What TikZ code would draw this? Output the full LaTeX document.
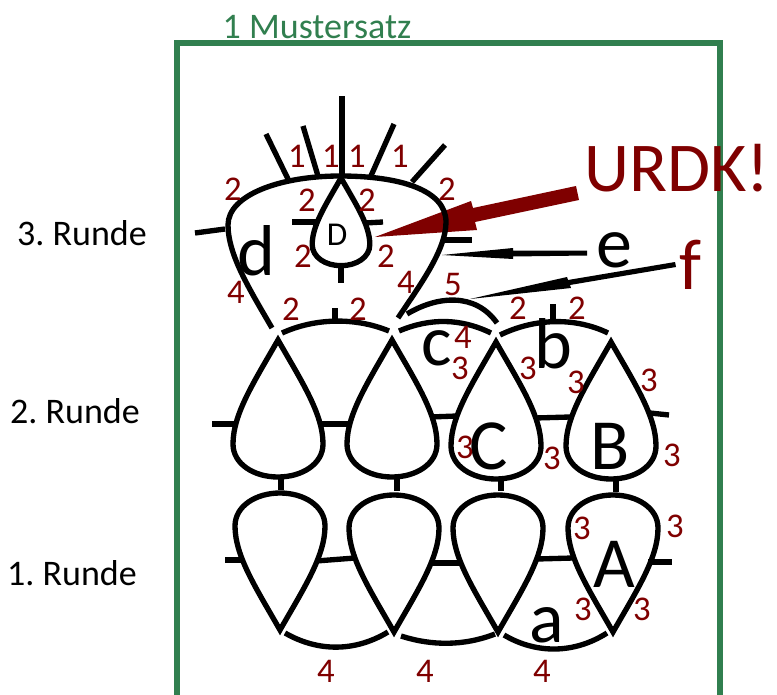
\documentclass[tikz,border=0pt]{standalone}
\usepackage{fontspec}
\setmainfont{Carlito}
\frenchspacing
\definecolor{rahmen}{HTML}{317F4F}
\definecolor{dunkelrot}{HTML}{7F0000}
\tikzset{
  masche/.style={line width=4pt},
  zahl/.style={text=dunkelrot,inner sep=0pt,anchor=base,font=\fontsize{26}{26}\selectfont},
  buchstabe/.style={inner sep=0pt,anchor=base,font=\fontsize{54}{54}\selectfont},
  runde/.style={inner sep=0pt,anchor=base,font=\fontsize{27}{27}\selectfont},
  tropfen/.pic={
    \draw[masche,line join=miter] (0,0) .. controls (-24,42) and (-45,74) .. (-45,104)
      .. controls (-45,124) and (-24,137) .. (0,137)
      .. controls (24,137) and (45,124) .. (45,104)
      .. controls (45,74) and (24,42) .. (0,0) -- cycle;
  }
}
\begin{document}
\begin{tikzpicture}[x=0.75pt,y=-0.75pt]
\useasboundingbox (0,0) rectangle (777,695);
%RAHMEN
\draw[rahmen,line width=3.8pt] (177,695) -- (177,43) -- (720,43) -- (720,695);
\node (mustersatz) at (317,39) [runde,text=rahmen] {1 Mustersatz};
\node (runde3) at (82,245) [runde] {3. Runde};
\node (runde2) at (75,423) [runde] {2. Runde};
\node (runde1) at (72,585) [runde] {1. Runde};

%ROT
\coordinate (urdkziel) at (375,237);
\fill[dunkelrot] (urdkziel) -- (471,201) -- (473,208) -- (576,186) -- (579,200) -- (475,222) -- (477,230) -- cycle;

%1. RUNDE
\pic[yscale=-1] at (280,630) {tropfen};
\pic[yscale=-1] at (394,632) {tropfen};
\pic[yscale=-1] at (498,632) {tropfen};
\pic[yscale=-1] at (613,632) {tropfen};
\draw[masche] (225,560) -- (242,560);
\draw[masche] (316,561) -- (355,558);
\draw[masche] (430,563) -- (462,563);
\draw[masche] (537,559) -- (573,558);
\draw[masche] (648,562) -- (672,562);
\draw[masche] (285,633) .. controls (318,652) and (355,652) .. (388,632);
\draw[masche] (401,636) .. controls (432,646) and (464,646) .. (495,634);
\draw[masche] (504,635) .. controls (536,654) and (574,654) .. (607,633);

%2. RUNDE
\pic at (278,340) {tropfen};
\pic at (392,340) {tropfen};
\pic at (496,342) {tropfen};
\pic at (611,342) {tropfen};
\draw[masche] (212,424) -- (234,424);
\draw[masche] (320,424) -- (349,424);
\draw[masche] (430,417) -- (457,416);
\draw[masche] (535,418) -- (570,417);
\draw[masche] (650,413) -- (669,415);
\draw[masche] (281,477) -- (281,490);
\draw[masche] (397,479) -- (397,491);
\draw[masche] (501,481) -- (501,491);
\draw[masche] (616,481) -- (616,492);
\draw[masche] (282,333) .. controls (315,318) and (355,317) .. (389,331);
\draw[masche] (399,331) .. controls (430,318) and (460,318) .. (491,333);
\draw[masche] (500,335) .. controls (535,318) and (575,317) .. (608,333);
\draw[masche] (335,308) -- (335,321);
\draw[masche] (553,304) -- (553,321);
\draw[masche] (407,314) .. controls (437,296) and (475,292) .. (497,323);

%3. RUNDE
\draw[masche] (272,328) .. controls (250,290) and (228,255) .. (228,225)
  .. controls (228,195) and (280,176) .. (340,176)
  .. controls (400,176) and (446,190) .. (446,222)
  .. controls (446,250) and (420,285) .. (398,318);
\draw[masche] (288,179) -- (266,134);
\draw[masche] (318,176) -- (303,126);
\draw[masche] (342,176) -- (342,96);
\draw[masche] (370,178) -- (394,124);
\draw[masche] (412,182) -- (445,145);
\draw[masche] (195,233) -- (225,229);
\draw[masche] (445,240) -- (472,240);
\pic[scale=.64] at (341,178) {tropfen};
\draw[masche] (292,222) -- (316,222);
\draw[masche] (365,223) -- (383,222);
\draw[masche] (341,267) -- (341,283);

%PFEILE
\coordinate (eziel) at (442,255);
\fill (eziel) -- (513,248) -- (513,250.5) -- (587,250.5) -- (587,255.5) -- (513,256.5) -- (513,259) -- cycle;
\coordinate (fziel) at (470,299);
\fill (fziel) -- (567,277) -- (568,280) -- (675,262) -- (676,267) -- (570,285) -- (571,288) -- cycle;

%BUCHSTABEN
\node (d) at (256,275) [buchstabe] {d};
\node (c) at (437,365) [buchstabe] {c};
\node (b) at (553,368) [buchstabe] {b};
\node (a) at (547,642) [buchstabe] {a};
\node (e) at (614,267) [buchstabe] {e};
\node (f) at (690,289) [buchstabe,text=dunkelrot] {f};
\node (gc) at (489,469) [buchstabe] {C};
\node (gb) at (610,469) [buchstabe] {B};
\node (ga) at (614,587) [buchstabe] {A};
\node (gd) at (337,245) [buchstabe,font=\fontsize{25}{25}\selectfont] {D};
\node (urdk) at (677,192) [buchstabe,text=dunkelrot,font=\fontsize{52.5}{52.5}\selectfont] {URDK!};

%ZAHLEN
\node (z1) at (297,168) [zahl] {1};
\node (z2) at (331,168) [zahl] {1};
\node (z3) at (357,168) [zahl] {1};
\node (z4) at (400,168) [zahl] {1};
\node (z5) at (233,201) [zahl] {2};
\node (z6) at (307,212) [zahl] {2};
\node (z7) at (367,212) [zahl] {2};
\node (z8) at (447,201) [zahl] {2};
\node (z9) at (303,267) [zahl] {2};
\node (z10) at (386,267) [zahl] {2};
\node (z11) at (236,303) [zahl] {4};
\node (z12) at (406,293) [zahl] {4};
\node (z13) at (291,320) [zahl] {2};
\node (z14) at (358,320) [zahl] {2};
\node (z15) at (453,295) [zahl] {5};
\node (z16) at (518,319) [zahl] {2};
\node (z17) at (577,319) [zahl] {2};
\node (z18) at (463,348) [zahl] {4};
\node (z19) at (460,379) [zahl] {3};
\node (z20) at (528,379) [zahl] {3};
\node (z21) at (576,393) [zahl] {3};
\node (z22) at (649,391) [zahl] {3};
\node (z23) at (465,458) [zahl] {3};
\node (z24) at (552,469) [zahl] {3};
\node (z25) at (672,466) [zahl] {3};
\node (z26) at (582,539) [zahl] {3};
\node (z27) at (675,537) [zahl] {3};
\node (z28) at (583,620) [zahl] {3};
\node (z29) at (642,620) [zahl] {3};
\node (z30) at (326,682) [zahl] {4};
\node (z31) at (425,682) [zahl] {4};
\node (z32) at (542,682) [zahl] {4};
\end{tikzpicture}
\end{document}
